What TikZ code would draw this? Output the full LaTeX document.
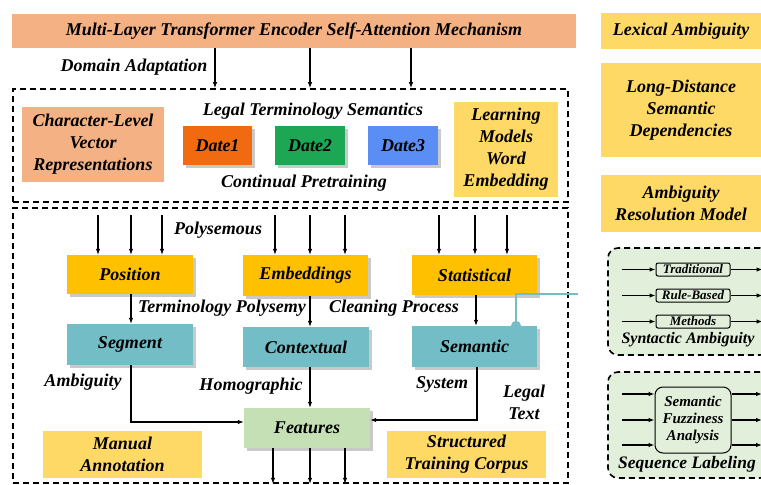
\documentclass[tikz,border=0pt]{standalone}
\usepackage{fontspec}
\setmainfont{Liberation Serif}[BoldItalicFont={Liberation Serif Bold Italic}]
\newfontfamily\tnr{Liberation Serif Bold Italic}
\usetikzlibrary{arrows.meta,shadows,calc}
\definecolor{salmon}{HTML}{F4B183}
\definecolor{lyel}{HTML}{FFD966}
\definecolor{gold}{HTML}{FFC000}
\definecolor{tealbox}{HTML}{72BDC6}
\definecolor{featg}{HTML}{C5E0B4}
\definecolor{panelg}{HTML}{E2EFDA}
\definecolor{dOne}{HTML}{F26A10}
\definecolor{dTwo}{HTML}{1DA653}
\definecolor{dThree}{HTML}{5A8EF5}
\pgfdeclarelayer{bg}
\pgfsetlayers{bg,main}
\begin{document}
\begin{tikzpicture}[x=1pt,y=-1pt,
  font=\fontsize{18}{22}\tnr\selectfont,
  bx/.style={align=center, inner sep=0pt},
  sh/.style={drop shadow={shadow xshift=3pt, shadow yshift=-3pt, fill=black!60, opacity=0.35}},
  arr/.style={-{Latex[length=6pt,width=4.5pt]}, line width=1.1pt},
  dashbox/.style={draw, line width=1.6pt, dash pattern=on 6pt off 4pt, inner sep=0pt},
  small/.style={font=\fontsize{13}{15}\tnr\selectfont},
  inbox/.style={draw, line width=1pt, rounded corners=2pt, fill=panelg, bx, small},
  tealc/.style={draw=tealbox, line width=2pt},
  lbl/.style={inner sep=0pt}
]
\clip (0,0) rectangle (761,485);
\begin{pgfonlayer}{bg}
\fill[white] (0,0) rectangle (761,485);
\end{pgfonlayer}

% containers
\node[dashbox, minimum width=555pt, minimum height=113pt] (box1) at (290.5,145.5) {};
\node[dashbox, minimum width=555pt, minimum height=275pt] (box2) at (290.5,345.5) {};
\node[dashbox, fill=panelg, rounded corners=10pt, minimum width=162pt, minimum height=107pt] (syn) at (689,301.5) {};
\node[dashbox, fill=panelg, rounded corners=10pt, minimum width=162pt, minimum height=106pt] (seq) at (689,425) {};

% top
\node[bx, fill=salmon, minimum width=564pt, minimum height=34pt] (title) at (294,31) {Multi-Layer Transformer Encoder Self-Attention Mechanism};
\node[lbl] (domain) at (134,67) {Domain Adaptation};

% right column
\node[bx, fill=lyel, minimum width=160pt, minimum height=36pt] (lex) at (681,31) {Lexical Ambiguity};
\node[bx, fill=lyel, minimum width=160pt, minimum height=94pt] (longd) at (681,110) {Long-Distance\\Semantic\\Dependencies};
\node[bx, fill=lyel, minimum width=160pt, minimum height=57pt] (ambres) at (681,203.5) {Ambiguity\\Resolution Model};

% box1 content
\node[bx, fill=salmon, minimum width=142pt, minimum height=75pt] (char) at (93,144.5) {Character-Level\\Vector\\Representations};
\node[lbl] (legal) at (313,111) {Legal Terminology Semantics};
\node[bx, sh, fill=dOne, minimum width=69pt, minimum height=39pt] (d1) at (217.5,145.5) {Date1};
\node[bx, sh, fill=dTwo, minimum width=70pt, minimum height=39pt] (d2) at (310,145.5) {Date2};
\node[bx, sh, fill=dThree, minimum width=70pt, minimum height=39pt] (d3) at (403,145.5) {Date3};
\node[lbl] (cont) at (304,183) {Continual Pretraining};
\node[bx, fill=lyel, minimum width=104pt, minimum height=95pt] (learn) at (506,149.5) {Learning\\Models\\Word\\Embedding};

% box2 content
\node[lbl] (poly) at (218,230) {Polysemous};
\node[bx, sh, fill=gold, minimum width=126pt, minimum height=39pt] (pos) at (130,274.5) {Position};
\node[bx, sh, fill=gold, minimum width=125pt, minimum height=41pt] (emb) at (305.5,275.5) {Embeddings};
\node[bx, sh, fill=gold, minimum width=125pt, minimum height=40pt] (stat) at (474.5,275) {Statistical};
\node[lbl] (termp) at (222,308) {Terminology Polysemy};
\node[lbl] (clean) at (394,308) {Cleaning Process};
\node[bx, sh, fill=tealbox, minimum width=126pt, minimum height=41pt] (seg) at (130,344.5) {Segment};
\node[bx, sh, fill=tealbox, minimum width=126pt, minimum height=40pt] (ctx) at (306,347) {Contextual};
\node[bx, sh, fill=tealbox, minimum width=125pt, minimum height=41pt] (sem) at (474.5,346.5) {Semantic};
\node[lbl] (ambig) at (83,382) {Ambiguity};
\node[lbl] (homo) at (251,386) {Homographic};
\node[lbl] (sys) at (442,384) {System};
\node[lbl, align=center] (ltext) at (524,402) {Legal\\Text};
\node[bx, sh, fill=featg, minimum width=126pt, minimum height=40pt] (feat) at (307,428) {Features};
\node[bx, fill=lyel, minimum width=159pt, minimum height=47pt] (man) at (122.5,454.5) {Manual\\Annotation};
\node[bx, fill=lyel, minimum width=159pt, minimum height=47pt] (str) at (466.5,454.5) {Structured\\Training Corpus};

% right panels content
\node[inbox, minimum width=74pt, minimum height=13pt] (trad) at (693,269.5) {Traditional};
\node[inbox, minimum width=74pt, minimum height=13pt] (rule) at (693,295.5) {Rule-Based};
\node[inbox, minimum width=74pt, minimum height=13pt] (meth) at (693,321.5) {Methods};
\node[lbl, font=\fontsize{16}{18}\tnr\selectfont] (syntxt) at (688,340) {Syntactic Ambiguity};
\node[draw, line width=1pt, rounded corners=8pt, fill=panelg, bx, font=\fontsize{15}{17}\tnr\selectfont, minimum width=76pt, minimum height=66pt] (fuzz) at (693,420) {Semantic\\Fuzziness\\Analysis};
\node[lbl, font=\fontsize{17.5}{20}\tnr\selectfont] (seqtxt) at (687,464) {Sequence Labeling};

% connectors
\foreach \x in {215,310,411} \draw[arr] (title.south -| \x,0) -- (box1.north -| \x,0);
\foreach \x in {98,131,162} \draw[arr] (\x,215) -- (pos.north -| \x,0);
\foreach \x in {275,310,345} \draw[arr] (\x,215) -- (emb.north -| \x,0);
\foreach \x in {439,475,507} \draw[arr] (\x,215) -- (stat.north -| \x,0);
\draw[arr] (pos.south -| 131,0) -- (seg.north -| 131,0);
\draw[arr] (emb.south -| 310,0) -- (ctx.north -| 310,0);
\draw[arr] (stat.south -| 476,0) -- (sem.north -| 476,0);
\draw[arr] (seg.south -| 131,0) |- ([yshift=6pt]feat.west);
\draw[arr] (ctx.south -| 310,0) -- (feat.north -| 310,0);
\draw[arr] (sem.south -| 477,0) |- ([yshift=8pt]feat.east);
\foreach \x in {273,310,345} \draw[arr] (feat.south -| \x,0) -- (box2.south -| \x,0);

\coordinate (tealend) at (578,294);
\begin{pgfonlayer}{bg}
\fill[tealbox] (sem.north -| 516,0) circle (5pt);
\end{pgfonlayer}
\draw[tealc] (sem.north -| 516,0) -- (516,294) -- (tealend);

\foreach \n in {trad,rule,meth} {
  \draw[arr] (\n.west) ++(-34pt,0) -- (\n.west);
  \draw[arr] (\n.east) -- ++(32pt,0);
}
\foreach \y in {394,420,445} {
  \draw[arr] (622,\y) -- (fuzz.west |- 0,\y);
  \draw[arr] (fuzz.east |- 0,\y) -- (762,\y);
}
\end{tikzpicture}
\end{document}
